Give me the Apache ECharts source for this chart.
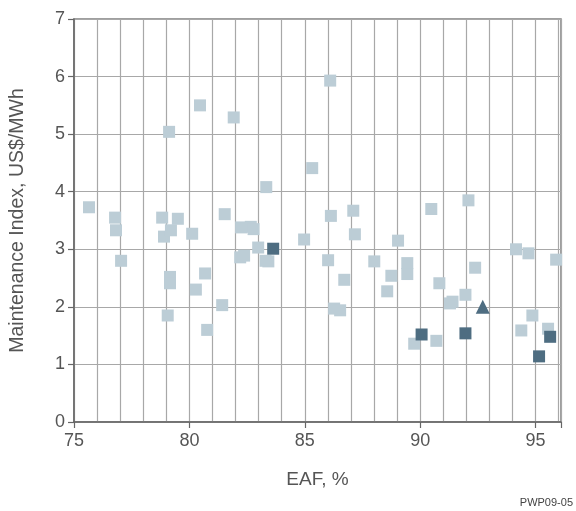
<!DOCTYPE html>
<html>
<head>
<meta charset="utf-8">
<script src="https://cdn.jsdelivr.net/npm/echarts@6/dist/echarts.min.js"></script>
<style>
  html, body { margin: 0; padding: 0; background: #fff; }
  #chart { width: 576px; height: 511px; }
</style>
</head>
<body>
<div id="chart"></div>
<script>
// EAF (%) and maintenance index (US$/MWh)
var otherEaf = [75.65, 76.78, 76.82, 77.04, 78.82, 78.9, 79.2, 79.5, 79.16, 79.16, 79.06, 79.12,
    80.12, 80.28, 80.68, 80.77, 80.46, 81.53, 81.42, 81.92, 82.24, 82.66, 82.78, 82.2, 82.37,
    82.98, 83.3, 83.42, 83.33, 84.97, 85.32, 86.1, 86.13, 87.1, 87.17, 89.04, 90.48, 92.09,
    86.01, 86.71, 86.27, 86.53, 88.01, 88.75, 88.57, 89.44, 89.44, 89.74, 90.7, 90.83, 91.29,
    91.4, 91.96, 92.38, 94.15, 94.69, 95.89, 94.86, 94.38, 95.54];
var otherIndex = [3.73, 3.55, 3.33, 2.8, 3.55, 3.22, 3.33, 3.53, 2.52, 2.41, 1.85, 5.04,
    3.27, 2.3, 2.58, 1.6, 5.5, 3.61, 2.03, 5.29, 3.38, 3.39, 3.35, 2.86, 2.89,
    3.03, 2.8, 2.79, 4.08, 3.17, 4.41, 5.93, 3.58, 3.67, 3.26, 3.15, 3.7, 3.85,
    2.81, 2.47, 1.97, 1.94, 2.79, 2.54, 2.27, 2.76, 2.57, 1.36, 1.41, 2.41, 2.06,
    2.09, 2.21, 2.68, 3.0, 2.93, 2.82, 1.85, 1.59, 1.62];
var markedEaf = [83.63, 90.06, 91.96, 95.15, 95.63];
var markedIndex = [3.01, 1.52, 1.54, 1.14, 1.48];
var triangleEaf = [92.71];
var triangleIndex = [2.0];

function pairs(xs, ys) {
    var out = [];
    for (var i = 0; i < xs.length; i++) {
        out.push([xs[i], ys[i]]);
    }
    return out;
}

var font = 'Liberation Sans, Arial, sans-serif';
var chart = echarts.init(document.getElementById('chart'));

var option = {
    backgroundColor: '#fff',
    animation: false,
    textStyle: { fontFamily: font },
    grid: {
        left: 74, right: 15, top: 19, bottom: 89,
        show: true,
        borderColor: '#808080',
        borderWidth: 1.5
    },
    xAxis: [{
        type: 'value',
        min: 75,
        max: 96.1,
        interval: 1,
        name: 'EAF, %',
        nameLocation: 'middle',
        nameGap: 48,
        nameTextStyle: { fontSize: 19, color: '#555', fontFamily: font },
        axisLine: { show: true, lineStyle: { color: '#666', width: 1.5 } },
        axisTick: { show: false },
        axisLabel: {
            fontSize: 18,
            color: '#555',
            margin: 10,
            fontFamily: font,
            formatter: function(value) {
                return value % 5 === 0 ? String(value) : '';
            }
        },
        splitLine: { show: true, lineStyle: { color: '#a8a8a8', width: 1.2 } }
    }, {
        // only for the major tick marks
        type: 'value',
        min: 75,
        max: 96.1,
        interval: 5,
        position: 'bottom',
        axisLine: { show: false },
        axisTick: { show: true, length: 6, lineStyle: { color: '#666', width: 1.2 } },
        axisLabel: { show: false },
        splitLine: { show: false }
    }],
    yAxis: {
        type: 'value',
        min: 0,
        max: 7,
        interval: 1,
        name: 'Maintenance Index, US$/MWh',
        nameLocation: 'middle',
        nameGap: 46,
        nameTextStyle: { fontSize: 19.5, color: '#555', fontFamily: font },
        axisLine: { show: true, lineStyle: { color: '#666', width: 1.5 } },
        axisTick: { show: true, length: 6, lineStyle: { color: '#666', width: 1.2 } },
        axisLabel: { fontSize: 18, color: '#555', margin: 9, fontFamily: font },
        splitLine: { show: true, lineStyle: { color: '#a8a8a8', width: 1.2 } }
    },
    graphic: [{
        type: 'text',
        right: 3,
        bottom: 3,
        style: { text: 'PWP09-05', fontSize: 11, fill: '#444', fontFamily: font }
    }],
    series: [{
        name: 'other',
        type: 'scatter',
        symbol: 'rect',
        symbolSize: 12,
        itemStyle: { color: '#bccdd6', opacity: 1 },
        data: pairs(otherEaf, otherIndex)
    }, {
        name: 'marked',
        type: 'scatter',
        symbol: 'rect',
        symbolSize: 12,
        itemStyle: { color: '#4e6d81', opacity: 1 },
        data: pairs(markedEaf, markedIndex)
    }, {
        name: 'triangle',
        type: 'scatter',
        symbol: 'triangle',
        symbolSize: [14, 14],
        itemStyle: { color: '#4e6d81', opacity: 1 },
        data: pairs(triangleEaf, triangleIndex)
    }]
};

chart.setOption(option);
</script>
</body>
</html>
